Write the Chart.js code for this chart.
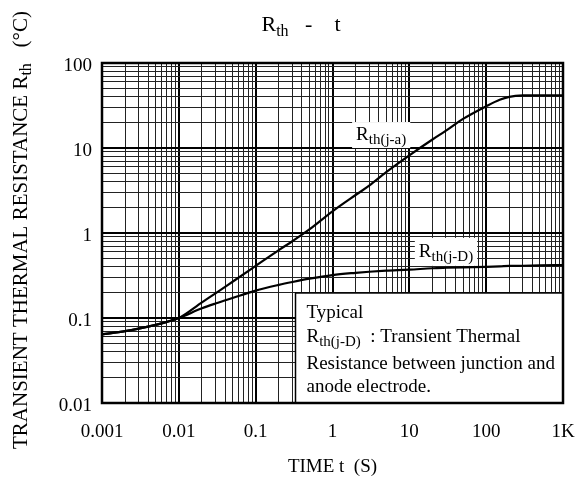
<!DOCTYPE html>
<html><head><meta charset="utf-8">
<script src="https://cdn.jsdelivr.net/npm/chart.js@4/dist/chart.umd.min.js"></script>
<style>html,body{margin:0;padding:0;background:#fff;}</style>
</head><body>
<canvas id="c" width="578" height="490" style="width:578px;height:490px;display:block"></canvas>
<script>
// ---- data ----
const timeS = [0.001, 0.002, 0.003, 0.005, 0.007, 0.01, 0.02, 0.03, 0.05, 0.1, 0.2, 0.3, 0.5, 1, 2, 3, 5, 10, 20, 30, 50, 100, 150, 200, 300, 500, 1000];
const rthJA = [0.064, 0.070, 0.075, 0.083, 0.090, 0.100, 0.153, 0.195, 0.267, 0.41, 0.63, 0.80, 1.10, 1.80, 2.80, 3.60, 5.20, 8.20, 12.6, 16.0, 22.0, 31.0, 37.0, 40.0, 41.5, 41.7, 41.7];
const rthJD = [0.064, 0.070, 0.075, 0.083, 0.090, 0.100, 0.130, 0.148, 0.172, 0.21, 0.245, 0.265, 0.29, 0.32, 0.34, 0.35, 0.36, 0.37, 0.385, 0.39, 0.395, 0.40, 0.405, 0.41, 0.412, 0.415, 0.42];
const xTickValues = [0.001, 0.01, 0.1, 1, 10, 100, 1000];
const xTickLabels = ['0.001', '0.01', '0.1', '1', '10', '100', '1K'];
const yTickValues = [0.01, 0.1, 1, 10, 100];
const yTickLabels = ['0.01', '0.1', '1', '10', '100'];

// annotation anchors (data coordinates)
const labelJA = {t: 4.3, r: 14.2};
const labelJD = {t: 30, r: 0.6};
const noteBox = {t: 0.33, r: 0.197};

const FONT = "'Liberation Serif', 'Times New Roman', serif";

function minorTicks(decades) {
  const out = [];
  for (let i = 0; i < decades.length - 1; i++) {
    for (let m = 1; m <= 9; m++) out.push({value: decades[i] * m});
  }
  out.push({value: decades[decades.length - 1]});
  return out;
}
function isDecade(v) { const l = Math.log10(v); return Math.abs(l - Math.round(l)) < 1e-6; }
function labelFor(values, labels, v) {
  for (let i = 0; i < values.length; i++) if (Math.abs(values[i] - v) / values[i] < 1e-6) return labels[i];
  return '';
}
function drawRich(ctx, parts, x, y) {
  let cx = x;
  for (const p of parts) {
    ctx.font = p.size + 'px ' + FONT;
    ctx.fillText(p.text, cx, y + (p.dy || 0));
    cx += ctx.measureText(p.text).width;
  }
  return cx - x;
}
function richWidth(ctx, parts) {
  let w = 0;
  for (const p of parts) { ctx.font = p.size + 'px ' + FONT; w += ctx.measureText(p.text).width; }
  return w;
}

const decor = {
  id: 'decor',
  beforeDatasetsDraw(chart) {
    const ctx = chart.ctx, xs = chart.scales.x, ys = chart.scales.y, a = chart.chartArea;
    ctx.save();
    ctx.fillStyle = '#000';
    ctx.textBaseline = 'alphabetic';
    ctx.textAlign = 'left';
    // Rth(j-a) label
    const pj = [{text: 'R', size: 19}, {text: 'th(j-a)', size: 15, dy: 4}];
    let w = richWidth(ctx, pj);
    let cx = xs.getPixelForValue(labelJA.t), cy = ys.getPixelForValue(labelJA.r);
    ctx.fillStyle = '#fff';
    ctx.fillRect(cx - w / 2 - 4, cy - 13, w + 8, 26);
    ctx.fillStyle = '#000';
    drawRich(ctx, pj, cx - w / 2, cy + 5);
    // Rth(j-D) label
    const pd = [{text: 'R', size: 19}, {text: 'th(j-D)', size: 15, dy: 4}];
    w = richWidth(ctx, pd);
    cx = xs.getPixelForValue(labelJD.t); cy = ys.getPixelForValue(labelJD.r);
    ctx.fillStyle = '#fff';
    ctx.fillRect(cx - w / 2 - 4, cy - 14, w + 8, 28);
    ctx.fillStyle = '#000';
    drawRich(ctx, pd, cx - w / 2, cy + 5);
    // note box
    const bx = xs.getPixelForValue(noteBox.t), by = ys.getPixelForValue(noteBox.r);
    ctx.fillStyle = '#fff';
    ctx.fillRect(bx, by, a.right - bx, a.bottom - by);
    ctx.strokeStyle = '#000';
    ctx.lineWidth = 1.5;
    ctx.strokeRect(bx, by, a.right - bx, a.bottom - by);
    ctx.fillStyle = '#000';
    const tx = bx + 11;
    drawRich(ctx, [{text: 'Typical', size: 19}], tx, by + 25);
    drawRich(ctx, [{text: 'R', size: 19}, {text: 'th(j-D)', size: 15, dy: 4}, {text: '  : Transient Thermal', size: 19}], tx, by + 49);
    drawRich(ctx, [{text: 'Resistance between junction and', size: 19}], tx, by + 76);
    drawRich(ctx, [{text: 'anode electrode.', size: 19}], tx, by + 99);
    ctx.restore();
  },
  afterDraw(chart) {
    const ctx = chart.ctx, a = chart.chartArea;
    ctx.save();
    // frame
    ctx.strokeStyle = '#000';
    ctx.lineWidth = 2.5;
    ctx.strokeRect(a.left, a.top, a.right - a.left, a.bottom - a.top);
    ctx.fillStyle = '#000';
    ctx.textBaseline = 'alphabetic';
    // title
    const tp = [{text: 'R', size: 22}, {text: 'th', size: 16, dy: 5}, {text: '   -    t', size: 22}];
    const tw = richWidth(ctx, tp);
    drawRich(ctx, tp, 301 - tw / 2, 31);
    // y-axis title (rotated)
    const yp = [{text: 'TRANSIENT THERMAL RESISTANCE R', size: 21}, {text: 'th', size: 16, dy: 4}, {text: '   (°C)', size: 21}];
    const yw = richWidth(ctx, yp);
    ctx.translate(27, 230);
    ctx.rotate(-Math.PI / 2);
    drawRich(ctx, yp, -yw / 2, 0);
    ctx.restore();
  }
};

const gridColor = (c) => (c.tick && isDecade(c.tick.value)) ? '#000' : '#222';
const gridWidth = (c) => (c.tick && isDecade(c.tick.value)) ? 2 : 1;

new Chart(document.getElementById('c'), {
  type: 'line',
  data: {
    labels: timeS,
    datasets: [
      {label: 'Rth(j-a)', data: timeS.map((t, i) => ({x: t, y: rthJA[i]})), borderColor: '#000', borderWidth: 2.2, pointRadius: 0, cubicInterpolationMode: 'monotone', fill: false},
      {label: 'Rth(j-D)', data: timeS.map((t, i) => ({x: t, y: rthJD[i]})), borderColor: '#000', borderWidth: 2.2, pointRadius: 0, cubicInterpolationMode: 'monotone', fill: false}
    ]
  },
  options: {
    responsive: false,
    animation: false,
    devicePixelRatio: 1,
    layout: {padding: {left: 0, top: 63, right: 15, bottom: 0}},
    plugins: {legend: {display: false}, tooltip: {enabled: false}, title: {display: false}},
    scales: {
      x: {
        type: 'logarithmic', min: 0.001, max: 1000,
        afterBuildTicks: (s) => { s.ticks = minorTicks(xTickValues); },
        afterFit: (s) => { s.height = 87; s.paddingLeft = 0; s.paddingRight = 0; },
        border: {display: false},
        grid: {color: gridColor, lineWidth: gridWidth, drawTicks: false},
        ticks: {autoSkip: false, maxRotation: 0, padding: 18, color: '#000', font: {family: FONT, size: 19},
          callback: (v) => labelFor(xTickValues, xTickLabels, v)},
        title: {display: true, text: 'TIME t  (S)', color: '#000', font: {family: FONT, size: 19}, padding: {top: 0, bottom: 12}}
      },
      y: {
        type: 'logarithmic', min: 0.01, max: 100,
        afterBuildTicks: (s) => { s.ticks = minorTicks(yTickValues); },
        afterFit: (s) => { s.width = 102; s.paddingTop = 0; s.paddingBottom = 0; },
        border: {display: false},
        grid: {color: gridColor, lineWidth: gridWidth, drawTicks: false},
        ticks: {autoSkip: false, padding: 10, labelOffset: 3, color: '#000', font: {family: FONT, size: 19},
          callback: (v) => labelFor(yTickValues, yTickLabels, v)}
      }
    }
  },
  plugins: [decor]
});
</script>
</body></html>
